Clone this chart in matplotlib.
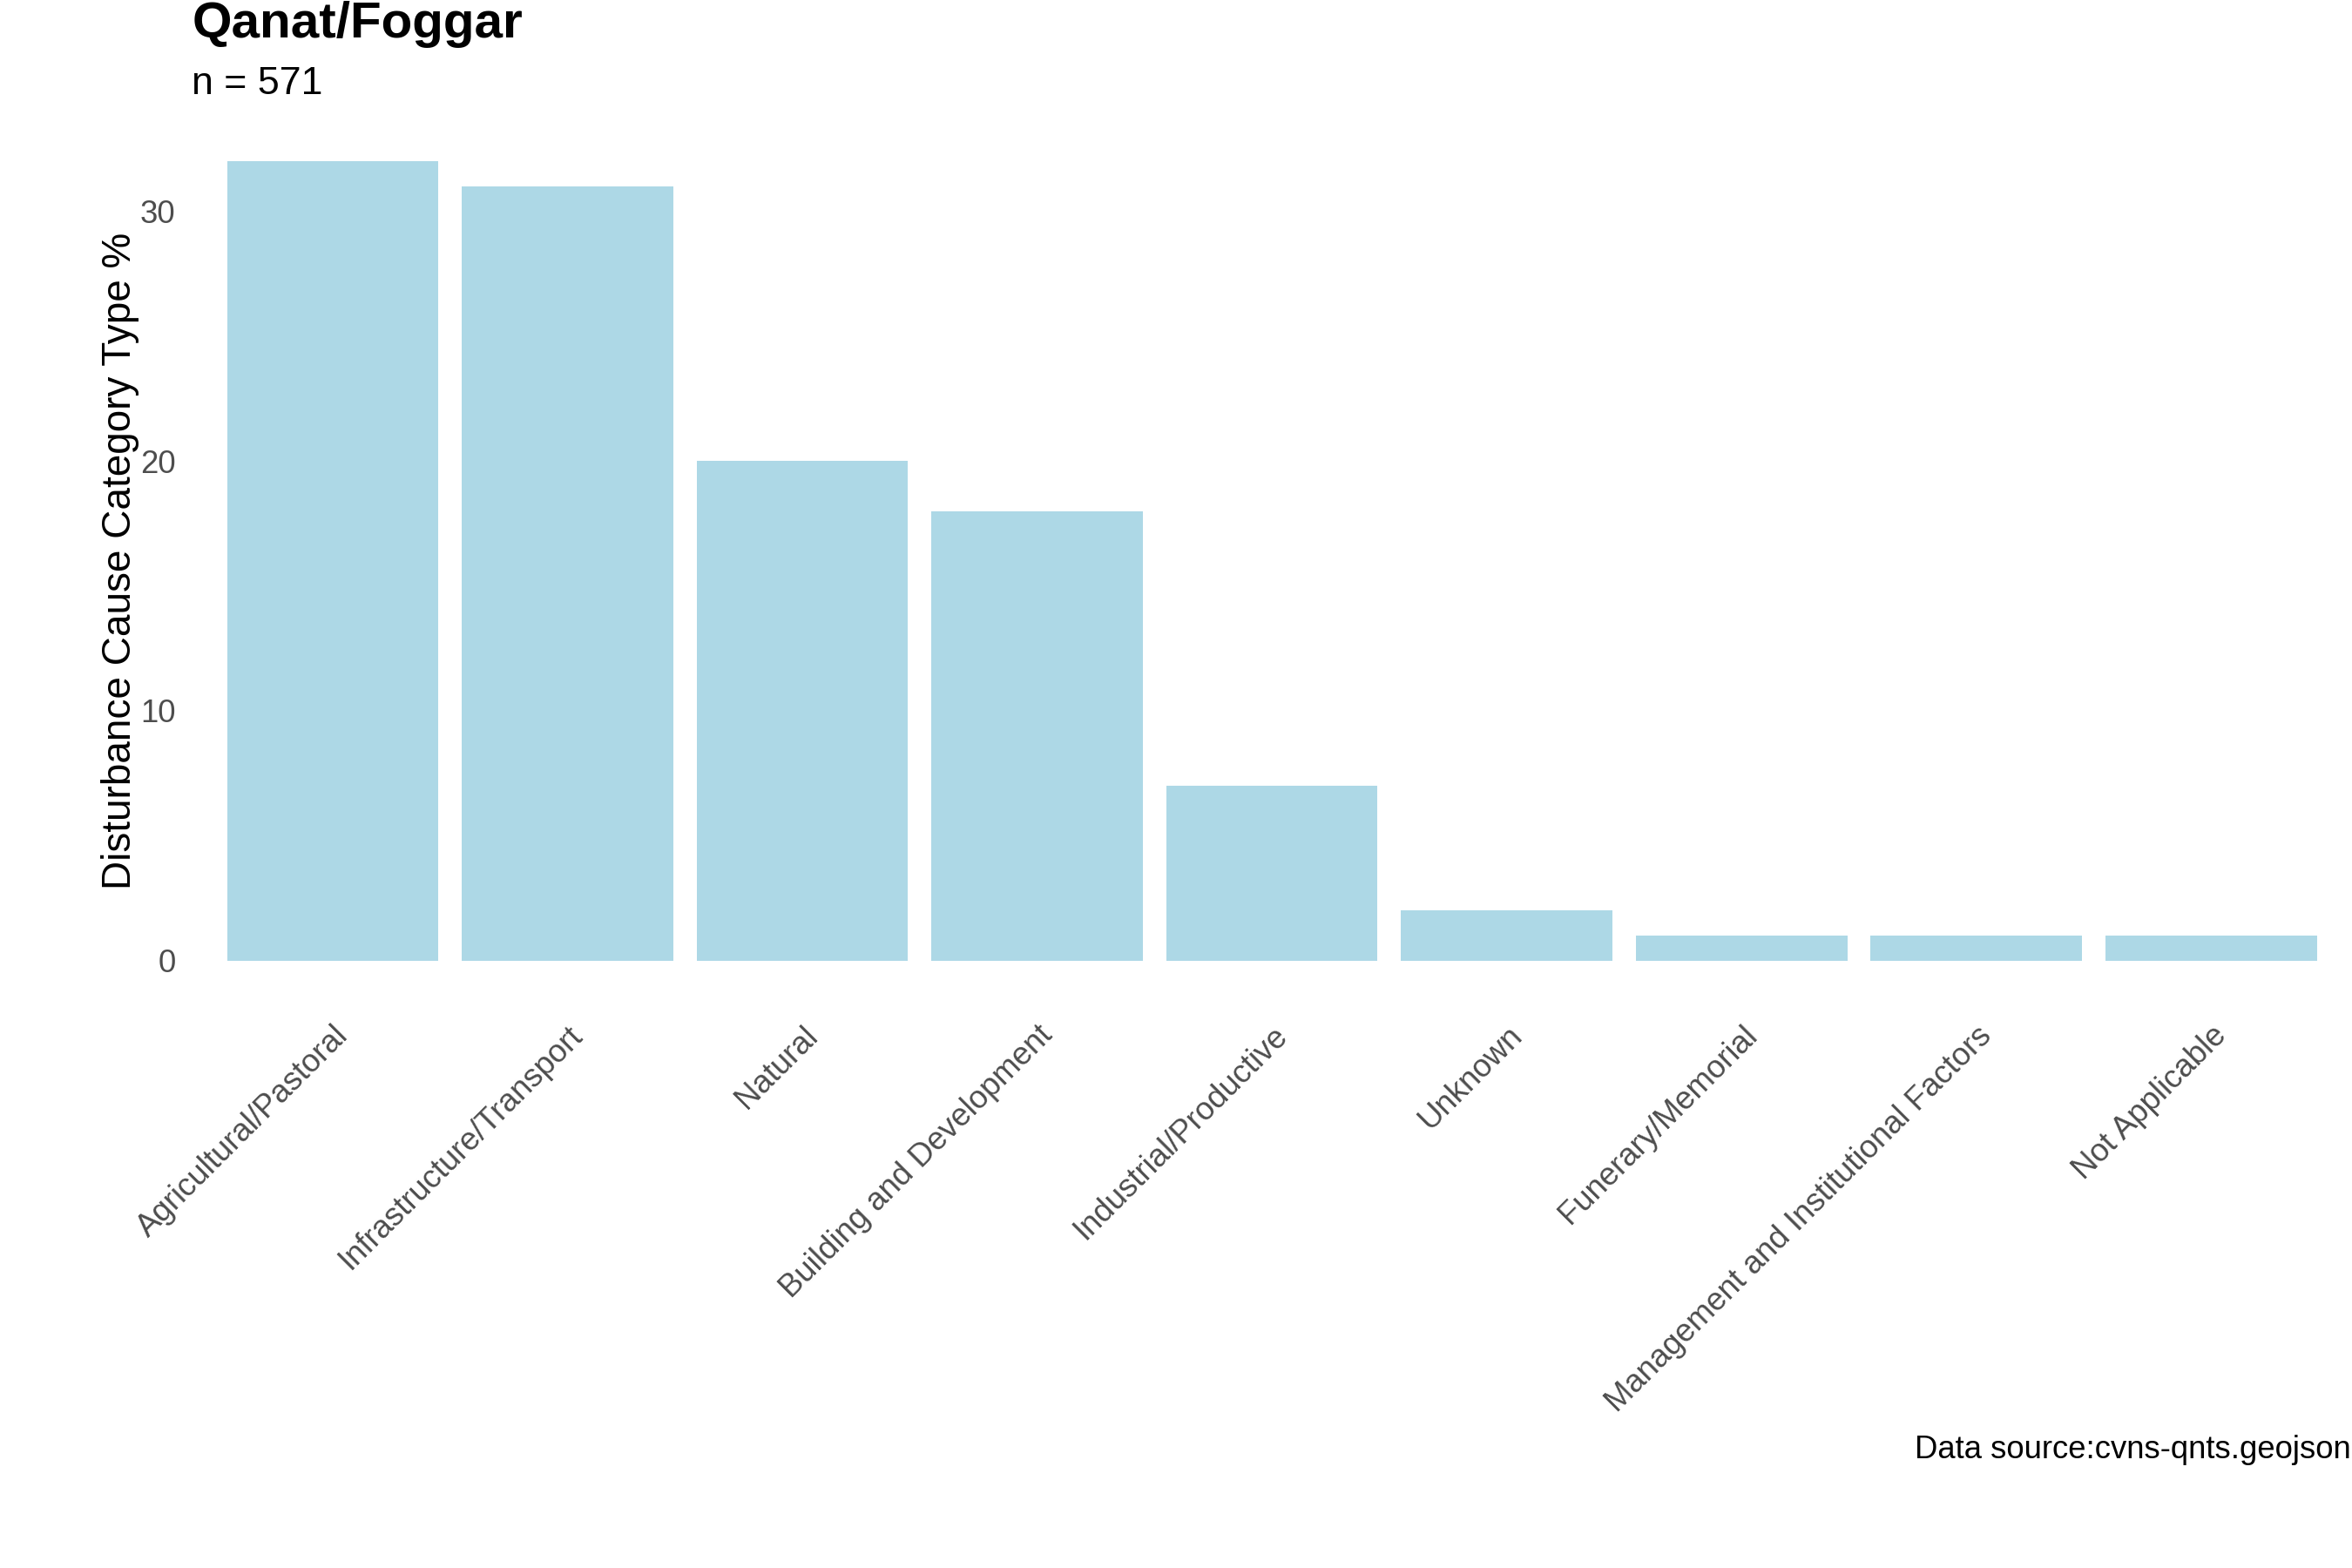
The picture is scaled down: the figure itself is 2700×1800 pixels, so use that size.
import matplotlib
matplotlib.use("Agg")
import matplotlib.pyplot as plt

categories = ["Agricultural/Pastoral", "Infrastructure/Transport", "Natural",
              "Building and Development", "Industrial/Productive", "Unknown",
              "Funerary/Memorial", "Management and Institutional Factors",
              "Not Applicable"]
values = [32, 31, 20, 18, 7, 2, 1, 1, 1]
yticks = [0, 10, 20, 30]

title = "Qanat/Foggar"
subtitle = "n = 571"
ylabel = "Disturbance Cause Category Type %"
caption = "Data source:cvns-qnts.geojson"

plt.rcParams['font.family'] = ['Liberation Sans', 'DejaVu Sans']

fig = plt.figure(figsize=(18, 12), dpi=150)
ax = fig.add_axes([0.0816, 0.362, 0.9184, 0.5605])

x = list(range(1, len(categories) + 1))
ax.bar(x, values, width=0.9, color="#ADD8E6", edgecolor="none")
ax.set_xlim(0.4, len(categories) + 0.6)
ax.set_ylim(-1.6, 33.6)
ax.set_yticks(yticks)
ax.set_yticklabels([str(t) for t in yticks])
ax.set_xticks(x)
ax.set_xticklabels(categories, rotation=45, ha='right', va='top',
                   rotation_mode='anchor')
ax.tick_params(axis='both', length=0, labelsize=17.5, labelcolor='#4D4D4D')
ax.tick_params(axis='x', pad=11)
ax.tick_params(axis='y', pad=9)
for s in ax.spines.values():
    s.set_visible(False)
ax.set_ylabel(ylabel, fontsize=22, color='black', labelpad=0.5)

fig.text(0.0816, 0.976, title, fontsize=28, fontweight='bold',
         ha='left', va='baseline')
fig.text(0.0816, 0.94, subtitle, fontsize=21.5, ha='left', va='baseline')
fig.text(0.9995, 0.07, caption, fontsize=17.5, ha='right', va='baseline')

fig.savefig("out.png", dpi=150)
